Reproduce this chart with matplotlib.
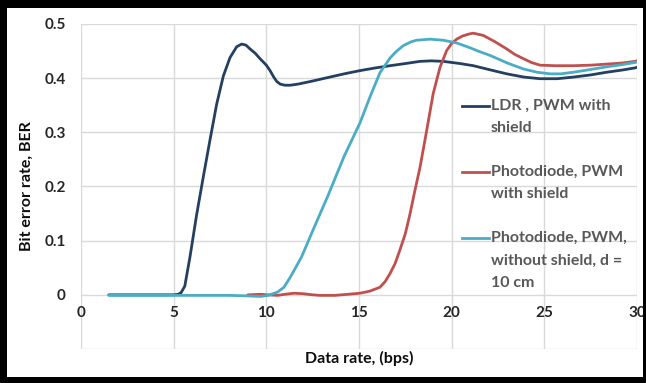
import matplotlib
matplotlib.use("Agg")
import matplotlib.pyplot as plt
from matplotlib.patches import Rectangle
from matplotlib.lines import Line2D

plt.rcParams['font.family'] = ['Lato', 'DejaVu Sans']

# ---- data ----
ldr_x = [1.5, 3, 5, 5.25, 5.4, 5.6, 5.88, 6.24, 6.6, 6.96, 7.32, 7.68, 8.04, 8.4, 8.67,
         8.9, 9.12, 9.4, 9.66, 10.0, 10.2, 10.4, 10.56, 10.75, 11.0, 11.3, 11.7, 12.4,
         13.3, 14.2, 15.06, 15.9, 16.67, 17.5, 18.29, 18.9, 19.55, 20.45, 21.17, 22.0,
         22.97, 23.9, 24.77, 25.7, 26.57, 27.5, 28.37, 29.2, 29.9, 30.0]
ldr_y = [0, 0, 0, 0.001, 0.004, 0.016, 0.07, 0.148, 0.218, 0.286, 0.352, 0.404, 0.438,
         0.458, 0.463, 0.461, 0.454, 0.446, 0.436, 0.424, 0.414, 0.402, 0.394, 0.389,
         0.387, 0.387, 0.389, 0.394, 0.401, 0.408, 0.414, 0.419, 0.423, 0.427, 0.431,
         0.432, 0.431, 0.427, 0.423, 0.416, 0.408, 0.402, 0.399, 0.399, 0.402, 0.406,
         0.411, 0.415, 0.419, 0.42]

red_x = [9.0, 9.7, 10.1, 10.6, 11.0, 11.5, 12.0, 12.5, 12.9, 13.7, 14.4, 15.06, 15.6,
         16.13, 16.4, 16.67, 16.95, 17.2, 17.5, 17.75, 18.0, 18.29, 18.65, 19.0, 19.37,
         19.73, 20.0, 20.27, 20.6, 20.99, 21.17, 21.7, 22.3, 22.97, 23.4, 23.87, 24.3,
         24.77, 25.6, 26.57, 27.5, 28.37, 29.2, 29.9, 30.0]
red_y = [0, 0.001, 0, -0.001, 0.001, 0.003, 0.002, 0, -0.001, -0.001, 0.001, 0.003,
         0.007, 0.014, 0.024, 0.039, 0.058, 0.082, 0.113, 0.149, 0.19, 0.235, 0.303,
         0.371, 0.42, 0.451, 0.464, 0.472, 0.478, 0.482, 0.483, 0.479, 0.468, 0.454,
         0.444, 0.436, 0.429, 0.424, 0.423, 0.423, 0.424, 0.426, 0.428, 0.431, 0.432]

cyan_x = [1.5, 5, 8, 9, 9.7, 10.1, 10.6, 10.95, 11.3, 11.9, 12.6, 13.3, 14.2, 15.06,
          15.6, 16.13, 16.67, 17.0, 17.39, 17.8, 18.1, 18.83, 19.55, 20.27, 21.0, 21.5,
          22.07, 22.4, 23.0, 23.87, 24.6, 25.3, 25.9, 26.57, 27.5, 28.37, 29.2, 29.9,
          30.0]
cyan_y = [-0.001, -0.001, -0.001, -0.002, -0.003, -0.001, 0.005, 0.014, 0.033, 0.07,
          0.126, 0.181, 0.256, 0.318, 0.366, 0.41, 0.437, 0.449, 0.46, 0.467, 0.47,
          0.472, 0.47, 0.465, 0.456, 0.449, 0.442, 0.437, 0.428, 0.417, 0.411, 0.408,
          0.408, 0.411, 0.416, 0.421, 0.425, 0.429, 0.43]

labels = ["LDR , PWM with\nshield",
          "Photodiode, PWM\nwith shield",
          "Photodiode, PWM,\nwithout shield, d =\n10 cm"]
colors = ["#243F60", "#C0504D", "#4BACC6"]

x_ticks = [0, 5, 10, 15, 20, 25, 30]
y_ticks = [0, 0.1, 0.2, 0.3, 0.4, 0.5]
y_ticklabels = ["0", "0.1", "0.2", "0.3", "0.4", "0.5"]

# ---- figure ----
W, H = 646, 383
fig = plt.figure(figsize=(W / 100, H / 100), dpi=100)
fig.patch.set_facecolor("white")
ax = fig.add_axes([81 / W, (H - 349) / H, (637 - 81) / W, (349 - 24) / H])

ax.set_xlim(0, 30)
ax.set_ylim(-0.1, 0.5)

ax.set_xticks(x_ticks)
ax.set_yticks([-0.1] + y_ticks)
ax.set_yticklabels([""] + y_ticklabels)
ax.grid(True, color="#D9D9D9", linewidth=1.0)
ax.set_axisbelow(True)
for s in ax.spines.values():
    s.set_visible(False)
ax.spines['bottom'].set_position(('data', 0))
ax.spines['bottom'].set_visible(True)
ax.spines['bottom'].set_color('none')

ax.tick_params(axis='both', length=0, labelsize=11, labelcolor="#262626")
ax.tick_params(axis='y', pad=11)
ax.tick_params(axis='x', pad=8)
for lab in ax.get_xticklabels() + ax.get_yticklabels():
    lab.set_fontweight('bold')

lw = 2.0
ax.plot(ldr_x, ldr_y, color=colors[0], lw=lw, solid_capstyle='round',
        solid_joinstyle='round', zorder=3)
ax.plot(red_x, red_y, color=colors[1], lw=lw, solid_capstyle='round',
        solid_joinstyle='round', zorder=3)
ax.plot(cyan_x, cyan_y, color=colors[2], lw=lw, solid_capstyle='round',
        solid_joinstyle='round', zorder=3)

ax.set_xlabel("Data rate, (bps)", fontsize=11.5, fontweight='bold', color="#0D0D0D")
ax.xaxis.set_label_coords(0.5, -0.005)
ax.set_ylabel("Bit error rate, BER", fontsize=11.5, fontweight='bold', color="#0D0D0D")
ax.yaxis.set_label_coords(-0.085, 0.5)

# ---- legend (manual, Excel-style with wrapped labels) ----
def fy(py):
    return (349 - py) / (349 - 24)

def fx(px):
    return (px - 81) / (637 - 81)

first_line_px = [106, 172, 238]
line_gap_px = 22.3
for lab, col, y0 in zip(labels, colors, first_line_px):
    ax.add_line(Line2D([fx(462), fx(489)], [fy(y0), fy(y0)], color=col, lw=lw,
                       transform=ax.transAxes, zorder=4))
    for i, part in enumerate(lab.split("\n")):
        ax.text(fx(491), fy(y0 + i * line_gap_px), part, transform=ax.transAxes,
                ha='left', va='center', fontsize=11.5, fontweight='bold',
                color="#595959", zorder=4)

# ---- black frame ----
def frame_rect(x0, y0, w, h):
    fig.patches.append(Rectangle((x0 / W, y0 / H), w / W, h / H, transform=fig.transFigure,
                                 facecolor="black", edgecolor="none", zorder=10))

frame_rect(0, H - 8, W, 8)      # top
frame_rect(0, 0, W, 6)          # bottom
frame_rect(0, 0, 7, H)          # left
frame_rect(W - 3, 0, 3, H)      # right

fig.savefig("out.png", dpi=100, facecolor="white")
